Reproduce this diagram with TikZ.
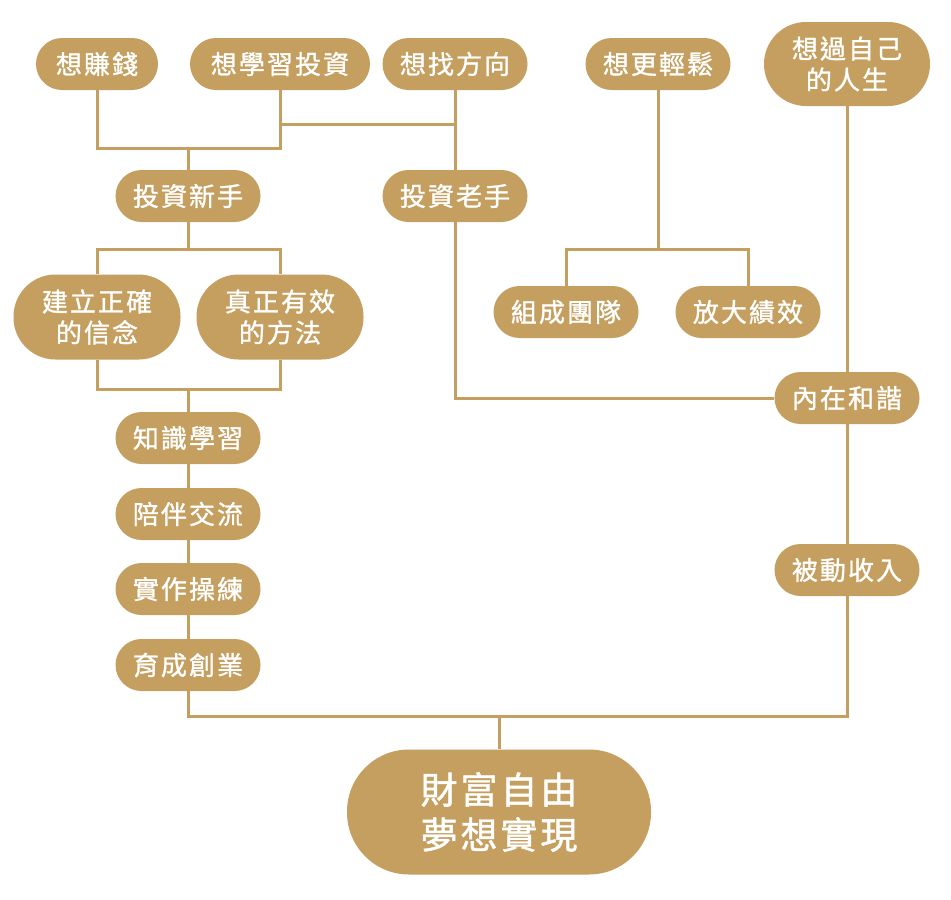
\documentclass[tikz,border=0pt]{standalone}
\usepackage{fontspec}
\newfontfamily\cjk{Noto Sans CJK TC}[LetterSpace=8, FakeBold=1.2]
\definecolor{gold}{HTML}{C49F5F}
\begin{document}
\begin{tikzpicture}[x=1pt,y=-1pt,
 pill/.style={fill=gold, rounded corners=26pt, minimum height=52pt, minimum width=145pt, inner sep=0pt, text=white, font=\cjk\fontsize{26}{31}\selectfont, align=center},
 tall/.style={pill, rounded corners=42pt, minimum height=85pt},
 big/.style={pill, rounded corners=62pt, minimum height=125pt, font=\cjk\fontsize{37}{45}\selectfont},
 link/.style={draw=gold, line width=3pt}]
\useasboundingbox (0,0) rectangle (951,900);
\node[pill, minimum width=122pt] (want1) at (97,64) {想賺錢};
\node[pill, minimum width=180pt] (want2) at (280,64) {想學習投資};
\node[pill] (want3) at (455,64) {想找方向};
\node[pill] (want4) at (658,64) {想更輕鬆};
\node[tall, minimum width=166pt, minimum height=84pt] (want5) at (847,64) {想過自己\\的人生};
\node[pill] (novice) at (188,196) {投資新手};
\node[pill] (veteran) at (455,196) {投資老手};
\node[tall, minimum width=167pt] (belief) at (97,317) {建立正確\\的信念};
\node[tall, minimum width=167pt] (method) at (280,317) {真正有效\\的方法};
\node[pill] (team) at (566,312) {組成團隊};
\node[pill] (perf) at (748,312) {放大績效};
\node[pill] (harmony) at (847,398) {內在和諧};
\node[pill] (learn) at (188,438) {知識學習};
\node[pill] (accomp) at (188,514) {陪伴交流};
\node[pill] (practice) at (188,589) {實作操練};
\node[pill] (incub) at (188,665) {育成創業};
\node[pill] (passive) at (847,570) {被動收入};
\node[big, minimum width=304pt] (goal) at (499,812) {財富自由\\夢想實現};
\coordinate (j1) at (188,148);
\coordinate (j2) at (455,124);
\coordinate (j3) at (188,249);
\coordinate (j4) at (188,389);
\coordinate (j5) at (499,716);
\coordinate (j6) at (658,249);
\draw[link] (want1.south) |- (j1) -| (want2.south);
\draw[link] (j1) -- (novice.north);
\draw[link] (want2.south |- j2) -- (j2);
\draw[link] (want3.south) -- (veteran.north);
\draw[link] (novice.south) -- (j3);
\draw[link] (belief.north) |- (j3) -| (method.north);
\draw[link] (belief.south) |- (j4) -| (method.south);
\draw[link] (j4) -- (learn.north);
\draw[link] (learn) -- (accomp);
\draw[link] (accomp) -- (practice);
\draw[link] (practice) -- (incub);
\draw[link] (incub.south) |- (j5) -| (passive.south);
\draw[link] (j5) -- (goal.north);
\draw[link] (veteran.south) |- (harmony.west);
\draw[link] (want4.south) -- (j6);
\draw[link] (team.north) |- (j6) -| (perf.north);
\draw[link] (want5.south) -- (harmony.north);
\draw[link] (harmony.south) -- (passive.north);
\end{tikzpicture}
\end{document}
